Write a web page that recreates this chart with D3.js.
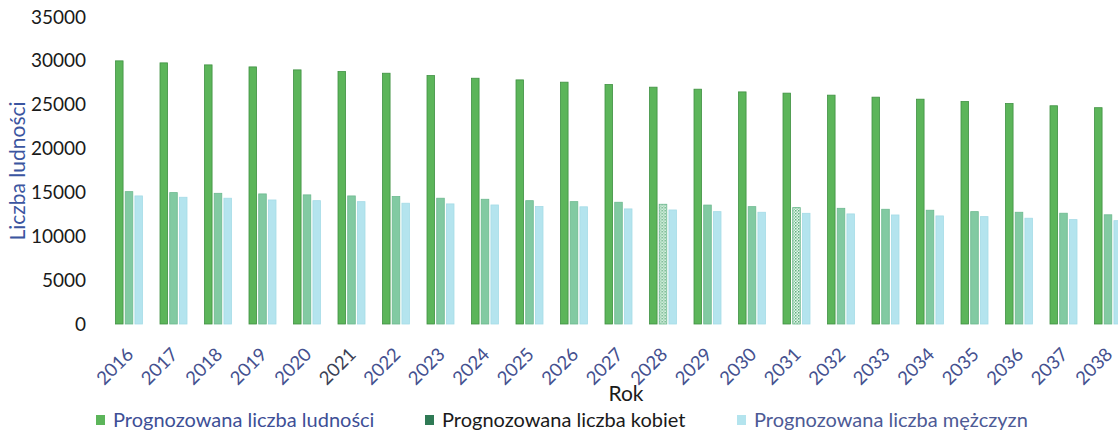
<!DOCTYPE html>
<html>
<head>
<meta charset="utf-8">
<script src="https://cdn.jsdelivr.net/npm/d3@7"></script>
<style>
  body { margin: 0; background: #fff; }
  svg { display: block; font-family: Lato, "Open Sans", sans-serif; }
</style>
</head>
<body>
<script>
// chart data
var years = ["2016","2017","2018","2019","2020","2021","2022","2023","2024","2025","2026","2027",
             "2028","2029","2030","2031","2032","2033","2034","2035","2036","2037","2038"];
var total = [30000,29770,29540,29310,28970,28780,28590,28320,28020,27830,27570,27300,
             27000,26770,26460,26320,26090,25860,25630,25360,25130,24880,24660];
var women = [15090,14980,14900,14830,14720,14600,14530,14340,14220,14060,13950,13880,
             13650,13560,13380,13270,13190,13080,12970,12810,12740,12630,12450];
var men   = [14600,14450,14340,14140,14060,13950,13770,13690,13570,13400,13360,13120,
             13000,12810,12740,12620,12550,12430,12320,12240,12060,11900,11780];
var seriesNames = ["Prognozowana liczba ludności", "Prognozowana liczba kobiet", "Prognozowana liczba mężczyzn"];
var yTicks = [0,5000,10000,15000,20000,25000,30000,35000];

var width = 1118, height = 433;

var svg = d3.select("body").append("svg")
    .attr("width", width)
    .attr("height", height);

// textured fill for the two speckled bars
var defs = svg.append("defs");
var pat = defs.append("pattern")
    .attr("id", "speck")
    .attr("patternUnits", "userSpaceOnUse")
    .attr("width", 3).attr("height", 3);
pat.append("rect").attr("width", 3).attr("height", 3).attr("fill", "#e8f5ec");
pat.append("rect").attr("width", 1.5).attr("height", 1.5).attr("fill", "#5fae7e");
pat.append("rect").attr("x", 1.5).attr("y", 1.5).attr("width", 1.5).attr("height", 1.5).attr("fill", "#8fcfa8");

var colors = ["#5cb55a", "#82caa2", "#b4e4ee"];
var strokes = ["#3f9142", "#6db98f", "#a5dbe6"];

var y = d3.scaleLinear().domain([0, 35000]).range([324, 17]);

var x0 = d3.scaleBand().domain(years).range([106.75, 1130.25]).padding(0);
var x1 = d3.scaleBand().domain(d3.range(3)).range([0, 27]).paddingInner(0.22);
var groupOff = (x0.bandwidth() - 27) / 2;

var rows = years.map(function(yr, i) {
  return { year: yr, vals: [total[i], women[i], men[i]] };
});

// y axis (labels only)
var yAxis = svg.append("g")
    .attr("transform", "translate(86,0)")
    .call(d3.axisLeft(y).tickValues(yTicks).tickSize(0).tickPadding(0).tickFormat(d3.format("d")));
yAxis.select(".domain").remove();
yAxis.selectAll("text")
    .attr("font-size", 19)
    .attr("font-family", "Lato, sans-serif")
    .attr("fill", "#1a1a1a");

// bars
var groups = svg.append("g").selectAll("g")
    .data(rows)
    .enter().append("g")
    .attr("transform", function(d) { return "translate(" + (x0(d.year) + groupOff) + ",0)"; });

groups.selectAll("rect")
    .data(function(d) { return d.vals.map(function(v, k) { return { k: k, v: v, year: d.year }; }); })
    .enter().append("rect")
    .attr("x", function(d) { return x1(d.k); })
    .attr("width", x1.bandwidth())
    .attr("y", function(d) { return y(d.v); })
    .attr("height", function(d) { return y(0) - y(d.v); })
    .attr("fill", function(d) {
      if (d.k == 1 && (d.year == "2028" || d.year == "2031")) return "url(#speck)";
      return colors[d.k];
    })
    .attr("stroke", function(d) { return strokes[d.k]; })
    .attr("stroke-width", 0.8);

// x axis labels, rotated
var xAxis = svg.append("g")
    .attr("transform", "translate(0,334)")
    .call(d3.axisBottom(x0).tickSize(0).tickPadding(0));
xAxis.select(".domain").remove();
xAxis.selectAll("text")
    .attr("font-size", 18.5)
    .attr("font-family", "Lato, sans-serif")
    .attr("fill", function(d) { return d == "2021" ? "#3b3f55" : "#44508f"; })
    .attr("text-anchor", "end")
    .attr("y", 0)
    .attr("dy", "0.35em")
    .attr("transform", "translate(1,17) rotate(-45)");

// axis titles
svg.append("text")
    .attr("transform", "translate(25,171) rotate(-90)")
    .attr("text-anchor", "middle")
    .attr("font-size", 21)
    .attr("fill", "#3b55a0")
    .text("Liczba ludności");

svg.append("text")
    .attr("x", 626)
    .attr("y", 401)
    .attr("text-anchor", "middle")
    .attr("font-size", 21)
    .attr("fill", "#1a1a1a")
    .text("Rok");

// legend
var legendX = [96, 425, 737];
var legendText = ["#3e4f96", "#1a1a1a", "#4d5a95"];
var markerCol = ["#5cb55a", "#2f7a55", "#b4e4ee"];
var legend = svg.append("g").selectAll("g")
    .data(seriesNames)
    .enter().append("g")
    .attr("transform", function(d, i) { return "translate(" + legendX[i] + ",420)"; });
legend.append("rect")
    .attr("x", 0).attr("y", -5)
    .attr("width", 9).attr("height", 10)
    .attr("fill", function(d, i) { return markerCol[i]; });
legend.append("text")
    .attr("x", 17)
    .attr("dy", "0.35em")
    .attr("font-size", 20)
    .attr("fill", function(d, i) { return legendText[i]; })
    .text(function(d) { return d; });
</script>
</body>
</html>
